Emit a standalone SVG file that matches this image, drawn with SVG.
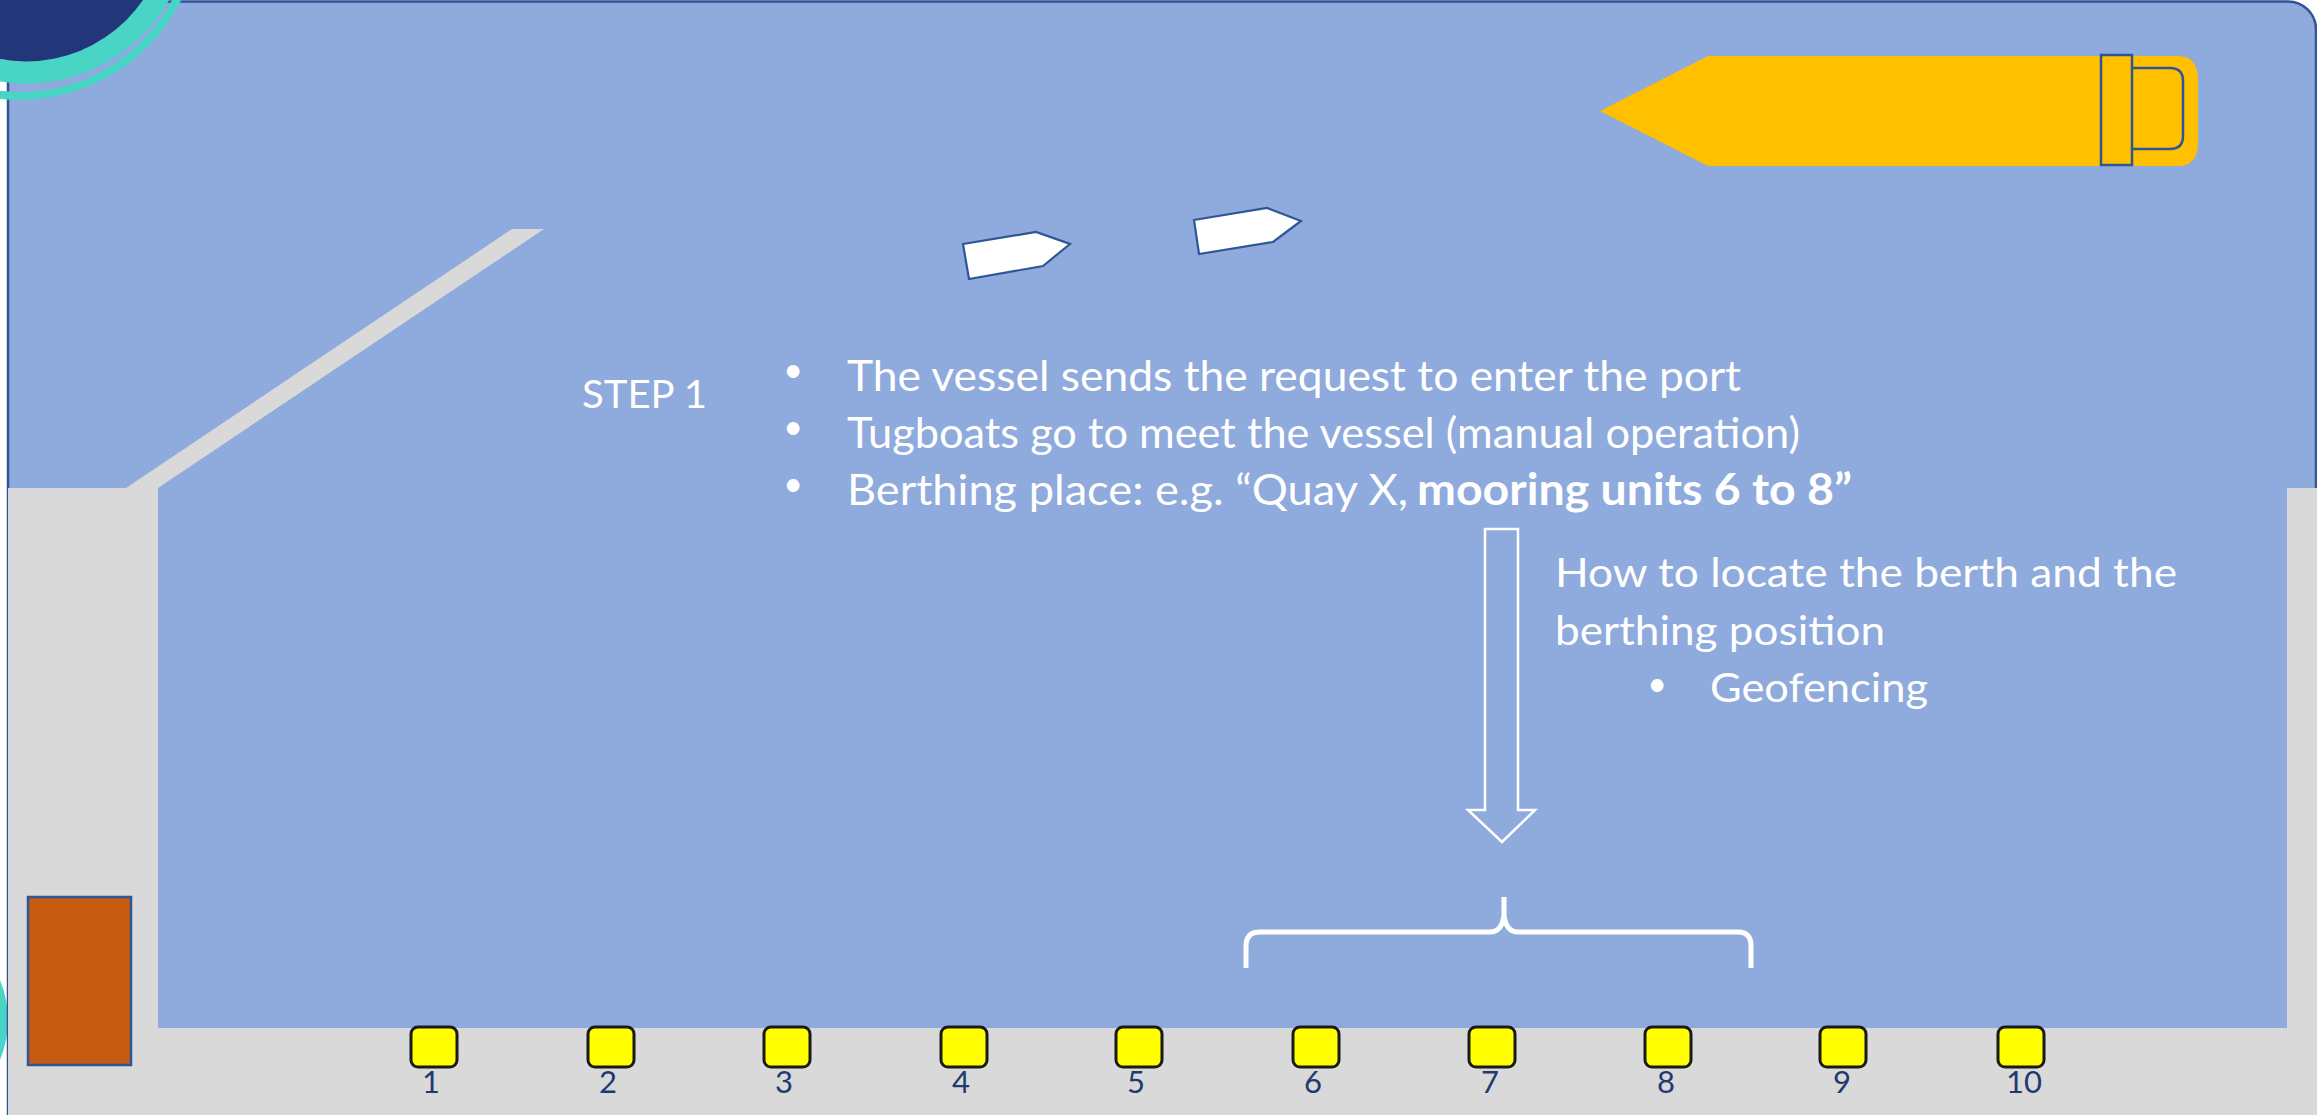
<svg xmlns="http://www.w3.org/2000/svg" width="2317" height="1115" viewBox="0 0 2317 1115">
<style>
.land{fill:#D9D9D9}
.txt{font-family:Lato,"Open Sans","Liberation Sans",sans-serif;fill:#FFFFFF}
.bul{font-family:Lato,"Open Sans","Liberation Sans",sans-serif;fill:#FFFFFF;font-size:34px;text-anchor:middle}
.bol{fill:#FFFF00;stroke:#1A1A1A;stroke-width:3}
.num{font-family:Lato,"Open Sans","Liberation Sans",sans-serif;font-size:31px;fill:#1F3A70;text-anchor:middle}
.tug{fill:#FFFFFF;stroke:#2F5597;stroke-width:2.2;stroke-linejoin:miter}
.shipline{fill:none;stroke:#2F5597;stroke-width:2.5}
</style>
<rect x="0" y="0" width="2317" height="1115" fill="#FFFFFF"/>
<!-- bottom-left decoration behind frame -->
<circle cx="-95" cy="1020" r="103" fill="#48D5C5"/>
<circle cx="-95" cy="1020" r="128" fill="none" stroke="#48D5C5" stroke-width="8" stroke-dasharray="0 120 160 2000"/>
<g id="water">
<rect x="8" y="1.5" width="2308" height="1160" rx="28" fill="#8FAADC" stroke="#2F5597" stroke-width="2.5"/>
</g>
<g id="land">
<rect class="land" x="8" y="1028" width="2309" height="87"/>
<rect class="land" x="8" y="488" width="150" height="627"/>
<polygon class="land" points="126,488 512,229 544,229 158,488"/>
<rect class="land" x="2287" y="488" width="30" height="627"/>
</g>
<g id="decoration">
<circle cx="20" cy="-80" r="176" fill="none" stroke="#48D5C5" stroke-width="8"/>
<circle cx="26" cy="-80.5" r="153" fill="none" stroke="#48D5C5" stroke-width="22"/>
<circle cx="26" cy="-80.5" r="142" fill="#22377A"/>
</g>
<g id="building">
<rect x="28" y="897" width="103" height="168" fill="#C55A11" stroke="#2F5597" stroke-width="2.5"/>
</g>
<g id="vessel">
<path d="M1600,111 L1708,56 L2178,56 Q2198,56 2198,80 L2198,142 Q2198,166 2178,166 L1708,166 Z" fill="#FFC000"/>
<rect x="2101" y="55" width="31" height="110" fill="#FFC000" stroke="#2F5597" stroke-width="2.5"/>
<path class="shipline" d="M2132,68 L2170,68 Q2183,68 2183,81 L2183,136 Q2183,149 2170,149 L2132,149"/>
</g>
<g id="tugboat1">
<polygon class="tug" points="963,244 1036,232 1070,244 1043,266 969,279"/>
</g>
<g id="tugboat2">
<polygon class="tug" points="1194,220 1267,208 1301,221 1273,242 1199,254"/>
</g>
<g id="step1">
<text class="txt" x="582" y="408" font-size="39" textLength="125" lengthAdjust="spacingAndGlyphs">STEP 1</text>
</g>
<g id="step1-bullets">
<text class="bul" x="793" y="382">•</text>
<text class="bul" x="793" y="439">•</text>
<text class="bul" x="793" y="496">•</text>
<text class="txt" x="847" y="391" font-size="43" textLength="894" lengthAdjust="spacingAndGlyphs">The vessel sends the request to enter the port</text>
<text class="txt" x="847" y="448" font-size="43" textLength="953" lengthAdjust="spacingAndGlyphs">Tugboats go to meet the vessel (manual operation)</text>
<text class="txt" x="847" y="505" font-size="43" textLength="561" lengthAdjust="spacingAndGlyphs">Berthing place: e.g. “Quay X,</text>
<text class="txt" x="1417" y="505" font-size="43" font-weight="bold" textLength="435" lengthAdjust="spacingAndGlyphs">mooring units 6 to 8”</text>
</g>
<g id="locate-note">
<text class="txt" x="1555" y="587" font-size="40.5" textLength="622" lengthAdjust="spacingAndGlyphs">How to locate the berth and the</text>
<text class="txt" x="1555" y="645" font-size="40.5" textLength="330" lengthAdjust="spacingAndGlyphs">berthing position</text>
<text class="bul" x="1657" y="696">•</text>
<text class="txt" x="1710" y="702" font-size="40.5" textLength="218" lengthAdjust="spacingAndGlyphs">Geofencing</text>
</g>
<g id="connectors">
<polygon points="1485,529 1518,529 1518,810 1535,810 1502,842 1468,810 1485,810" fill="none" stroke="#FFFFFF" stroke-width="2.5"/>
</g>
<g id="brace">
<path d="M1246,968 L1246,946 Q1246,932 1260,932 L1490,932 Q1502,932 1504,915 L1504,897 M1504,915 Q1506,932 1518,932 L1738,932 Q1751,932 1751,946 L1751,968" fill="none" stroke="#FFFFFF" stroke-width="5"/>
</g>
<g id="bollards">
<g id="b1"><rect class="bol" x="411" y="1027" width="46" height="40" rx="7"/><text class="num" x="431" y="1093">1</text></g>
<g id="b2"><rect class="bol" x="588" y="1027" width="46" height="40" rx="7"/><text class="num" x="608" y="1093">2</text></g>
<g id="b3"><rect class="bol" x="764" y="1027" width="46" height="40" rx="7"/><text class="num" x="784" y="1093">3</text></g>
<g id="b4"><rect class="bol" x="941" y="1027" width="46" height="40" rx="7"/><text class="num" x="961" y="1093">4</text></g>
<g id="b5"><rect class="bol" x="1116" y="1027" width="46" height="40" rx="7"/><text class="num" x="1136" y="1093">5</text></g>
<g id="b6"><rect class="bol" x="1293" y="1027" width="46" height="40" rx="7"/><text class="num" x="1313" y="1093">6</text></g>
<g id="b7"><rect class="bol" x="1469" y="1027" width="46" height="40" rx="7"/><text class="num" x="1490" y="1093">7</text></g>
<g id="b8"><rect class="bol" x="1645" y="1027" width="46" height="40" rx="7"/><text class="num" x="1666" y="1093">8</text></g>
<g id="b9"><rect class="bol" x="1820" y="1027" width="46" height="40" rx="7"/><text class="num" x="1842" y="1093">9</text></g>
<g id="b10"><rect class="bol" x="1998" y="1027" width="46" height="40" rx="7"/><text class="num" x="2024" y="1093">10</text></g>
</g>
</svg>
